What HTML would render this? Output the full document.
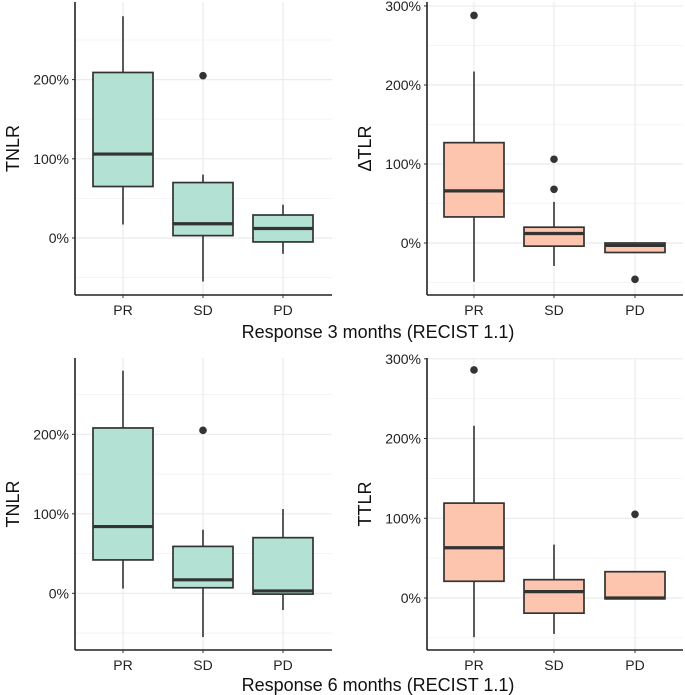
<!DOCTYPE html>
<html><head><meta charset="utf-8"><style>
body{margin:0;background:#fff;width:685px;height:695px;overflow:hidden}
svg{display:block;font-family:"Liberation Sans",sans-serif}
</style></head><body>
<svg id="chart" width="685" height="695"></svg>
<script>
const categories = ["PR","SD","PD"];
const panelTitles = ["TNLR","ΔTLR","TNLR","TTLR"];
// [whiskerLow, Q1, median, Q3, whiskerHigh]
const tnlr3 = [[0.17,0.65,1.06,2.09,2.80],[-0.55,0.03,0.18,0.70,0.80],[-0.20,-0.05,0.12,0.29,0.42]];
const tnlr3Outliers = [[],[2.05],[]];
const dtlr3 = [[-0.49,0.33,0.66,1.27,2.17],[-0.29,-0.04,0.12,0.20,0.52],[-0.12,-0.12,-0.03,0.00,0.00]];
const dtlr3Outliers = [[2.88],[1.06,0.68],[-0.46]];
const tnlr6 = [[0.06,0.42,0.84,2.08,2.80],[-0.55,0.07,0.17,0.59,0.80],[-0.21,-0.01,0.03,0.70,1.06]];
const tnlr6Outliers = [[],[2.05],[]];
const ttlr6 = [[-0.49,0.21,0.63,1.19,2.16],[-0.45,-0.19,0.08,0.23,0.67],[-0.01,-0.01,0.00,0.33,0.33]];
const ttlr6Outliers = [[2.86],[],[1.05]];
const majorTicks = [0,1,2,3];
const minorTicks = [-0.5,0.5,1.5,2.5];

const NS="http://www.w3.org/2000/svg";
const svg=document.getElementById('chart');
function mk(tag,attrs,parent){const e=document.createElementNS(NS,tag);for(const k in attrs)e.setAttribute(k,attrs[k]);(parent||svg).appendChild(e);return e;}

const panels=[
 {x0:75,x1:332,y0:2,y1:295,dom:[-0.72,2.98],cx:[123,203,283],data:tnlr3,out:tnlr3Outliers,fill:"#b3e1d3",title:panelTitles[0],tx:13},
 {x0:427,x1:683,y0:2,y1:295,dom:[-0.658,3.05],cx:[474,554,635],data:dtlr3,out:dtlr3Outliers,fill:"#fdc5ae",title:panelTitles[1],tx:365},
 {x0:75,x1:332,y0:358,y1:650,dom:[-0.713,2.96],cx:[123,203,283],data:tnlr6,out:tnlr6Outliers,fill:"#b3e1d3",title:panelTitles[2],tx:13},
 {x0:427,x1:683,y0:358,y1:650,dom:[-0.652,3.01],cx:[474,554,635],data:ttlr6,out:ttlr6Outliers,fill:"#fdc5ae",title:panelTitles[3],tx:365}
];
panels.forEach((p,pi)=>{
 const g=mk('g',{});
 
 
 const y=v=>p.y1-(v-p.dom[0])/(p.dom[1]-p.dom[0])*(p.y1-p.y0);
 minorTicks.forEach(t=>{const yy=y(t);if(yy<p.y0||yy>p.y1)return;
  const l=mk('line',{x1:p.x0,x2:p.x1,y1:yy,y2:yy,stroke:'#f2f2f2','stroke-width':0.8},g);
  });
 majorTicks.forEach(t=>{const yy=y(t);if(yy<p.y0-1||yy>p.y1)return;
  const l=mk('line',{x1:p.x0,x2:p.x1,y1:yy,y2:yy,stroke:'#ebebeb','stroke-width':1.2},g);
  
  mk('line',{x1:p.x0-3,x2:p.x0,y1:yy,y2:yy,stroke:'#333','stroke-width':1},g);
  const tx=mk('text',{x:p.x0-6,y:yy+5,'text-anchor':'end','font-size':14,fill:'#222'},g);
  tx.textContent=(t*100)+'%';
  });
 p.cx.forEach(c=>{const l=mk('line',{x1:c,x2:c,y1:p.y0,y2:p.y1,stroke:'#ebebeb','stroke-width':1.2},g);
  });
 categories.forEach((cat,i)=>{
  const c=p.cx[i],d=p.data[i],w=30;
  const bg=mk('g',{},g);
  
  
  mk('line',{x1:c,x2:c,y1:y(d[0]),y2:y(d[1]),stroke:'#333','stroke-width':1.6},bg);
  mk('line',{x1:c,x2:c,y1:y(d[3]),y2:y(d[4]),stroke:'#333','stroke-width':1.6},bg);
  mk('rect',{x:c-w,y:y(d[3]),width:2*w,height:Math.max(0.5,y(d[1])-y(d[3])),fill:p.fill,stroke:'#333','stroke-width':1.7},bg);
  mk('line',{x1:c-w,x2:c+w,y1:y(d[2]),y2:y(d[2]),stroke:'#333','stroke-width':3.2},bg);
  p.out[i].forEach(o=>{const ci=mk('circle',{cx:c,cy:y(o),r:3.8,fill:'#333'},bg);
   });
  mk('line',{x1:c,x2:c,y1:p.y1,y2:p.y1+3,stroke:'#333','stroke-width':1},g);
  const t=mk('text',{x:c,y:p.y1+20,'text-anchor':'middle','font-size':14,fill:'#222'},g);
  t.textContent=cat;
 });
 mk('line',{x1:p.x0,x2:p.x0,y1:p.y0,y2:p.y1,stroke:'#222','stroke-width':1.6},g);
 mk('line',{x1:p.x0,x2:p.x1,y1:p.y1,y2:p.y1,stroke:'#222','stroke-width':1.6},g);
 const ym=(p.y0+p.y1)/2;
 const tt=mk('text',{x:p.tx,y:ym,'text-anchor':'middle','font-size':18,fill:'#111',transform:`rotate(-90 ${p.tx} ${ym})`,dy:6},g);
 tt.textContent=p.title;
});
[["Response 3 months (RECIST 1.1)",338],["Response 6 months (RECIST 1.1)",691]].forEach(([s,yy],i)=>{
 const t=mk('text',{x:378,y:yy,'text-anchor':'middle','font-size':18,fill:'#111'});
 t.textContent=s;
 
 
});
</script>
</body></html>
